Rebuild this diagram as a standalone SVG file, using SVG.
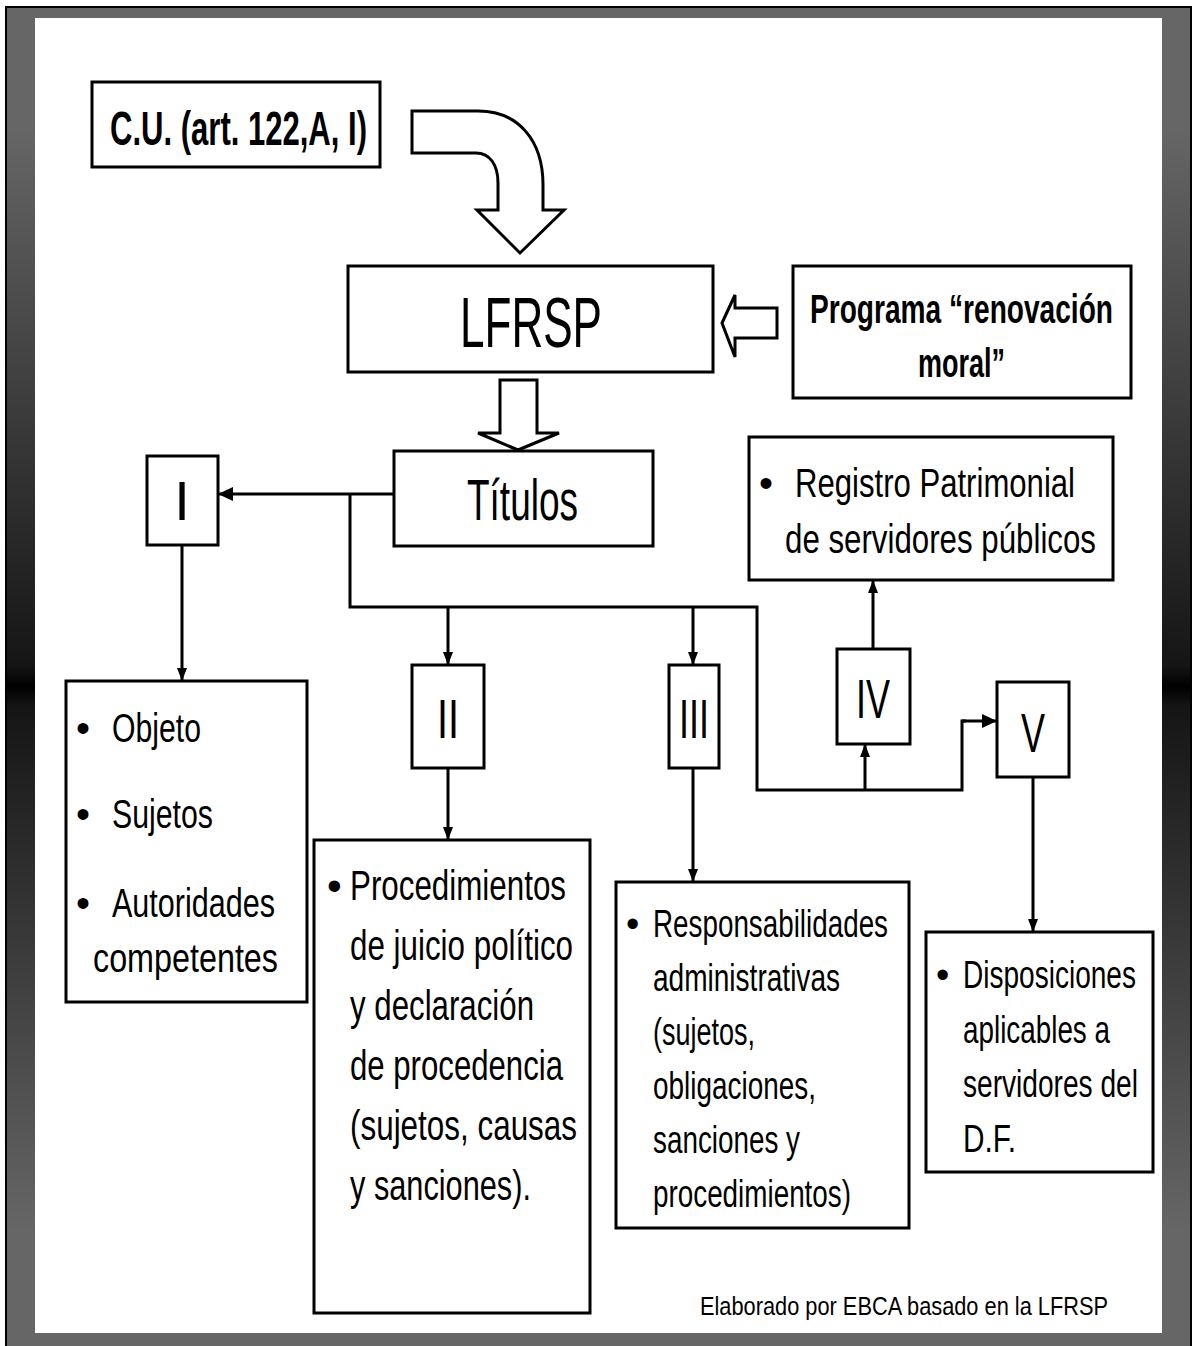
<svg xmlns="http://www.w3.org/2000/svg" width="1193" height="1346" viewBox="0 0 1193 1346">
  <defs>
    <linearGradient id="frameShade" x1="0" y1="0" x2="0" y2="1">
      <stop offset="0" stop-color="#666"/>
      <stop offset="0.09" stop-color="#666"/>
      <stop offset="0.49" stop-color="#151515"/>
      <stop offset="0.505" stop-color="#000"/>
      <stop offset="0.52" stop-color="#151515"/>
      <stop offset="0.91" stop-color="#666"/>
      <stop offset="1" stop-color="#666"/>
    </linearGradient>
    <marker id="ah" markerWidth="13" markerHeight="10" refX="13" refY="5" orient="auto" markerUnits="userSpaceOnUse">
      <path d="M0,0 L13,5 L0,10 Z" fill="#000"/>
    </marker>
    <marker id="ahBig" markerWidth="15" markerHeight="14" refX="15" refY="7" orient="auto" markerUnits="userSpaceOnUse">
      <path d="M0,0 L15,7 L0,14 Z" fill="#000"/>
    </marker>
  </defs>
  <style>
    .box { fill: #fff; stroke: #000; stroke-width: 3; }
    .blk { fill: #fff; stroke: #000; stroke-width: 3; stroke-linejoin: miter; }
    .ln { fill: none; stroke: #000; stroke-width: 3; }
    .t { font-family: "Liberation Sans", Arial, sans-serif; fill: #000; }
    .b { font-weight: bold; }
  </style>

  <!-- page frame -->
  <rect x="6" y="7" width="1185" height="1345" fill="url(#frameShade)" stroke="#000" stroke-width="2"/>
  <rect x="35" y="18" width="1127" height="1315" fill="#fff"/>

  <!-- block arrows -->
  <g id="bent-arrow">
    <path class="blk" d="M412,111 H478 C518,111 543,140 543,185 V210 H564 L520,253 L477,210 H498 V183 C498,165 490,153 476,153 H412 Z"/>
  </g>
  <g id="left-arrow">
    <path class="blk" d="M722,323 L735,295 V308 H777 V338 H735 V357 Z"/>
  </g>
  <g id="down-arrow">
    <path class="blk" d="M500,380 H537 V433 H559 L518,450 L478,433 H500 Z"/>
  </g>

  <!-- connectors -->
  <g id="connectors">
    <path class="ln" d="M394,494 H218" stroke-width="4.5" marker-end="url(#ahBig)"/>
    <path class="ln" d="M350,494 V607 H757 V790 H962 V721 H966"/>
    <path class="ln" d="M962,721 H997" stroke-width="5" marker-end="url(#ahBig)"/>
    <path class="ln" d="M448,607 V665" marker-end="url(#ah)"/>
    <path class="ln" d="M693,607 V665" marker-end="url(#ah)"/>
    <path class="ln" d="M865,790 V744" marker-end="url(#ah)"/>
    <path class="ln" d="M873,649 V580" marker-end="url(#ah)"/>
    <path class="ln" d="M182,545 V681" marker-end="url(#ah)"/>
    <path class="ln" d="M448,768 V840" marker-end="url(#ah)"/>
    <path class="ln" d="M693,768 V882" marker-end="url(#ah)"/>
    <path class="ln" d="M1033,777 V932" marker-end="url(#ah)"/>
  </g>

  <!-- nodes -->
  <g id="cu">
    <rect class="box" x="92" y="82" width="288" height="85"/>
    <text class="t b" x="110" y="145" font-size="48" textLength="257" lengthAdjust="spacingAndGlyphs">C.U. (art. 122,A, I)</text>
  </g>

  <g id="lfrsp">
    <rect class="box" x="348" y="266" width="365" height="106"/>
    <text class="t" x="460" y="347" font-size="70" textLength="142" lengthAdjust="spacingAndGlyphs">LFRSP</text>
  </g>

  <g id="programa">
    <rect class="box" x="793" y="266" width="338" height="132"/>
    <text class="t b" x="810" y="323" font-size="40" textLength="303" lengthAdjust="spacingAndGlyphs">Programa “renovación</text>
    <text class="t b" x="918" y="377" font-size="40" textLength="87" lengthAdjust="spacingAndGlyphs">moral”</text>
  </g>

  <g id="titulos">
    <rect class="box" x="394" y="451" width="259" height="95"/>
    <text class="t" x="467" y="520" font-size="58" textLength="111" lengthAdjust="spacingAndGlyphs">Títulos</text>
  </g>

  <g id="registro">
    <rect class="box" x="749" y="437" width="364" height="143"/>
    <text class="t" x="759" y="497" font-size="40">•</text>
    <text class="t" x="795" y="497" font-size="40" textLength="280" lengthAdjust="spacingAndGlyphs">Registro Patrimonial</text>
    <text class="t" x="785" y="553" font-size="40" textLength="311" lengthAdjust="spacingAndGlyphs">de servidores públicos</text>
  </g>

  <g id="titulo-i">
    <rect class="box" x="147" y="456" width="71" height="89"/>
    <text class="t" x="182" y="520" font-size="56" text-anchor="middle">I</text>
  </g>

  <g id="titulo-ii">
    <rect class="box" x="412" y="665" width="72" height="103"/>
    <text class="t" x="448" y="738" font-size="56" text-anchor="middle" textLength="22" lengthAdjust="spacingAndGlyphs">II</text>
  </g>

  <g id="titulo-iii">
    <rect class="box" x="669" y="665" width="50" height="103"/>
    <text class="t" x="694" y="738" font-size="56" text-anchor="middle" textLength="30" lengthAdjust="spacingAndGlyphs">III</text>
  </g>

  <g id="titulo-iv">
    <rect class="box" x="837" y="649" width="73" height="95"/>
    <text class="t" x="873" y="718" font-size="56" text-anchor="middle" textLength="34" lengthAdjust="spacingAndGlyphs">IV</text>
  </g>

  <g id="titulo-v">
    <rect class="box" x="997" y="682" width="72" height="95"/>
    <text class="t" x="1033" y="752" font-size="56" text-anchor="middle" textLength="24" lengthAdjust="spacingAndGlyphs">V</text>
  </g>

  <g id="objeto">
    <rect class="box" x="66" y="681" width="241" height="321"/>
    <text class="t" x="76" y="742" font-size="40">•</text>
    <text class="t" x="112" y="742" font-size="40" textLength="89" lengthAdjust="spacingAndGlyphs">Objeto</text>
    <text class="t" x="76" y="828" font-size="40">•</text>
    <text class="t" x="112" y="828" font-size="40" textLength="101" lengthAdjust="spacingAndGlyphs">Sujetos</text>
    <text class="t" x="76" y="917" font-size="40">•</text>
    <text class="t" x="112" y="917" font-size="40" textLength="163" lengthAdjust="spacingAndGlyphs">Autoridades</text>
    <text class="t" x="93" y="972" font-size="40" textLength="185" lengthAdjust="spacingAndGlyphs">competentes</text>
  </g>

  <g id="procedimientos">
    <rect class="box" x="314" y="840" width="276" height="473"/>
    <text class="t" x="327" y="900" font-size="42">•</text>
    <text class="t" x="350" y="900" font-size="42" textLength="216" lengthAdjust="spacingAndGlyphs">Procedimientos</text>
    <text class="t" x="350" y="960" font-size="42" textLength="223" lengthAdjust="spacingAndGlyphs">de juicio político</text>
    <text class="t" x="350" y="1020" font-size="42" textLength="184" lengthAdjust="spacingAndGlyphs">y declaración</text>
    <text class="t" x="350" y="1080" font-size="42" textLength="213" lengthAdjust="spacingAndGlyphs">de procedencia</text>
    <text class="t" x="350" y="1140" font-size="42" textLength="227" lengthAdjust="spacingAndGlyphs">(sujetos, causas</text>
    <text class="t" x="350" y="1200" font-size="42" textLength="181" lengthAdjust="spacingAndGlyphs">y sanciones).</text>
  </g>

  <g id="responsabilidades">
    <rect class="box" x="616" y="882" width="293" height="346"/>
    <text class="t" x="626" y="937" font-size="38">•</text>
    <text class="t" x="653" y="937" font-size="38" textLength="235" lengthAdjust="spacingAndGlyphs">Responsabilidades</text>
    <text class="t" x="653" y="991" font-size="38" textLength="187" lengthAdjust="spacingAndGlyphs">administrativas</text>
    <text class="t" x="653" y="1045" font-size="38" textLength="102" lengthAdjust="spacingAndGlyphs">(sujetos,</text>
    <text class="t" x="653" y="1099" font-size="38" textLength="163" lengthAdjust="spacingAndGlyphs">obligaciones,</text>
    <text class="t" x="653" y="1153" font-size="38" textLength="147" lengthAdjust="spacingAndGlyphs">sanciones y</text>
    <text class="t" x="653" y="1207" font-size="38" textLength="198" lengthAdjust="spacingAndGlyphs">procedimientos)</text>
  </g>

  <g id="disposiciones">
    <rect class="box" x="926" y="932" width="227" height="240"/>
    <text class="t" x="936" y="988" font-size="38">•</text>
    <text class="t" x="963" y="988" font-size="38" textLength="173" lengthAdjust="spacingAndGlyphs">Disposiciones</text>
    <text class="t" x="963" y="1043" font-size="38" textLength="147" lengthAdjust="spacingAndGlyphs">aplicables a</text>
    <text class="t" x="963" y="1097" font-size="38" textLength="175" lengthAdjust="spacingAndGlyphs">servidores del</text>
    <text class="t" x="963" y="1152" font-size="38" textLength="53" lengthAdjust="spacingAndGlyphs">D.F.</text>
  </g>

  <g id="credito">
    <text class="t" x="700" y="1315" font-size="25" textLength="408" lengthAdjust="spacingAndGlyphs">Elaborado por EBCA basado en la LFRSP</text>
  </g>
</svg>
